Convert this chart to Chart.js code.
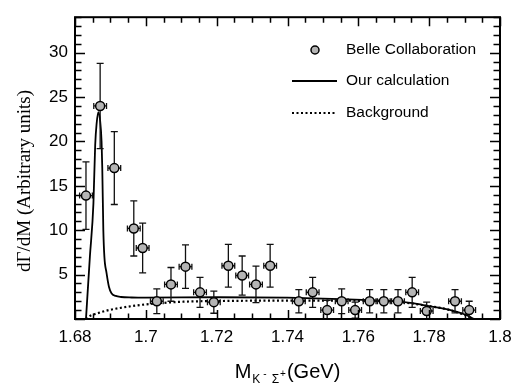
<!DOCTYPE html>
<html>
<head>
<meta charset="utf-8">
<script src="https://cdn.jsdelivr.net/npm/chart.js@4"></script>
<style>
  html, body { margin: 0; padding: 0; background: #fff; }
  #wrap { width: 520px; height: 385px; position: relative; }
</style>
</head>
<body>
<div id="wrap"><canvas id="chart"></canvas></div>
<script>
// Belle data points (M in GeV, dGamma/dM arbitrary units)
const massValues = [1.6831, 1.6871, 1.6911, 1.6966, 1.6991, 1.7031, 1.7071, 1.7112, 1.7153, 1.7192,
    1.7233, 1.7272, 1.7311, 1.7351, 1.7432, 1.7471, 1.7512, 1.7553, 1.7591, 1.7632,
    1.7672, 1.7712, 1.7752, 1.7793, 1.7873, 1.7913];
const belleValues = [13.9, 24.0, 17.0, 10.2, 8.0, 2.0, 3.9, 5.9, 3.0, 1.9,
    6.0, 4.9, 3.9, 6.0, 2.0, 3.0, 1.0, 2.0, 1.0, 2.0,
    2.0, 2.0, 3.0, 0.9, 2.0, 1.0];
const belleErrors = [3.8, 4.8, 4.1, 3.1, 2.8, 1.4, 1.9, 2.45, 1.7, 1.25,
    2.4, 2.2, 2.05, 2.4, 1.3, 1.7, 1.1, 1.4, 0.9, 1.3,
    1.3, 1.3, 1.7, 1.0, 1.3, 1.0];
const massError = 0.0018;

// "Our calculation" curve
const calcMass = [1.6831, 1.6842, 1.6852, 1.6857, 1.6861, 1.6866, 1.6871, 1.6875, 1.6877, 1.688,
    1.6883, 1.6889, 1.6896, 1.6903, 1.6915, 1.693, 1.696, 1.70, 1.72, 1.74,
    1.755, 1.765, 1.772, 1.778, 1.783, 1.787, 1.7905, 1.7925];
const calcValues = [0, 7, 13, 19.6, 22, 23.3, 22.3, 20, 17, 10,
    7, 5.2, 3.6, 2.9, 2.6, 2.48, 2.42, 2.4, 2.45, 2.4,
    2.25, 2.1, 1.95, 1.6, 1.25, 0.9, 0.45, 0];

// Background curve
const bgMass = [1.6831, 1.6838, 1.686, 1.6895, 1.6927, 1.6974, 1.7021, 1.7106, 1.72, 1.74,
    1.76, 1.77, 1.775, 1.78, 1.785, 1.79, 1.7925];
const bgValues = [0, 0.25, 0.6, 1.0, 1.24, 1.53, 1.72, 1.95, 2.02, 2.08,
    2.05, 1.95, 1.75, 1.45, 1.1, 0.45, 0];

const xTicks = [1.68, 1.70, 1.72, 1.74, 1.76, 1.78, 1.80];
const yTicks = [5, 10, 15, 20, 25, 30];

const legendLabels = ['Belle Collaboration', 'Our calculation', 'Background'];

const sansFont = "'Liberation Sans', Arial, sans-serif";
const serifFont = "'Liberation Serif', 'Times New Roman', serif";

// error bars, drawn just before the markers
const errorBars = {
    id: 'errorBars',
    beforeDatasetDraw(chart, args) {
        if (args.index !== 0) return;
        const { ctx, scales: { x, y } } = chart;
        ctx.save();
        ctx.strokeStyle = '#111';
        ctx.lineWidth = 1.3;
        massValues.forEach((m, i) => {
            const px = x.getPixelForValue(m);
            const py = y.getPixelForValue(belleValues[i]);
            const top = y.getPixelForValue(belleValues[i] + belleErrors[i]);
            const bot = y.getPixelForValue(Math.max(0, belleValues[i] - belleErrors[i]));
            const lx = x.getPixelForValue(m - massError);
            const rx = x.getPixelForValue(m + massError);
            ctx.beginPath();
            ctx.moveTo(px, top); ctx.lineTo(px, bot);
            ctx.moveTo(px - 3.5, top); ctx.lineTo(px + 3.5, top);
            ctx.moveTo(px - 3.5, bot); ctx.lineTo(px + 3.5, bot);
            ctx.moveTo(lx, py); ctx.lineTo(rx, py);
            ctx.moveTo(lx, py - 3); ctx.lineTo(lx, py + 3);
            ctx.moveTo(rx, py - 3); ctx.lineTo(rx, py + 3);
            ctx.stroke();
        });
        ctx.restore();
    }
};

// frame with inward ticks, titles and legend
const frameAndText = {
    id: 'frameAndText',
    afterDraw(chart) {
        const { ctx, chartArea: a, scales: { x, y } } = chart;
        ctx.save();
        ctx.strokeStyle = '#000';
        ctx.lineWidth = 2;
        ctx.strokeRect(a.left, a.top, a.right - a.left, a.bottom - a.top);

        ctx.lineWidth = 1.5;
        ctx.beginPath();
        for (let k = 0; k <= 24; k++) {
            const v = 1.68 + k * 0.005;
            const px = Math.round(x.getPixelForValue(v)) + 0.5;
            const len = k % 4 === 0 ? 9 : 5.5;
            ctx.moveTo(px, a.bottom); ctx.lineTo(px, a.bottom - len);
            ctx.moveTo(px, a.top); ctx.lineTo(px, a.top + len);
        }
        for (let v = 0; v <= 34; v++) {
            const py = Math.round(y.getPixelForValue(v)) + 0.5;
            const len = v % 5 === 0 ? 10 : 6.5;
            ctx.moveTo(a.left, py); ctx.lineTo(a.left + len, py);
            ctx.moveTo(a.right, py); ctx.lineTo(a.right - len, py);
        }
        ctx.stroke();

        // y title
        ctx.fillStyle = '#000';
        ctx.save();
        ctx.translate(25, 181);
        ctx.rotate(-Math.PI / 2);
        ctx.font = '19px ' + serifFont;
        ctx.textAlign = 'center';
        ctx.textBaseline = 'middle';
        ctx.fillText('dΓ/dM (Arbitrary units)', 0, 0);
        ctx.restore();

        // x title with subscript
        const parts = [
            { t: 'M', size: 20, dy: 0, gap: 0 },
            { t: 'K', size: 12, dy: 5, gap: 1 },
            { t: '-', size: 10, dy: -1, gap: 3 },
            { t: 'Σ', size: 12, dy: 5, gap: 5 },
            { t: '+', size: 10, dy: -1, gap: 1 },
            { t: '(GeV)', size: 20, dy: 0, gap: 1 }
        ];
        let total = 0;
        parts.forEach(p => {
            ctx.font = p.size + 'px ' + sansFont;
            p.w = ctx.measureText(p.t).width;
            total += p.w + p.gap;
        });
        let cx = (a.left + a.right) / 2 - total / 2;
        ctx.textAlign = 'left';
        ctx.textBaseline = 'alphabetic';
        parts.forEach(p => {
            cx += p.gap;
            ctx.font = p.size + 'px ' + sansFont;
            ctx.fillText(p.t, cx, 378 + p.dy);
            cx += p.w;
        });

        // legend
        const lineX0 = 292, lineX1 = 337, textX = 346;
        const rows = [50, 81, 113];
        ctx.font = '15.5px ' + sansFont;
        ctx.textBaseline = 'middle';
        legendLabels.forEach((label, i) => ctx.fillText(label, textX, rows[i]));

        ctx.beginPath();
        ctx.arc(315, rows[0], 4, 0, Math.PI * 2);
        ctx.fillStyle = '#b4b4b4';
        ctx.fill();
        ctx.lineWidth = 1.5;
        ctx.stroke();

        ctx.lineWidth = 1.8;
        ctx.beginPath();
        ctx.moveTo(lineX0, rows[1]); ctx.lineTo(lineX1, rows[1]);
        ctx.stroke();
        ctx.lineWidth = 2.2;
        ctx.setLineDash([2, 2.5]);
        ctx.beginPath();
        ctx.moveTo(lineX0, rows[2]); ctx.lineTo(lineX1, rows[2]);
        ctx.stroke();
        ctx.restore();
    }
};

const ctx = document.getElementById('chart').getContext('2d');
const chart = new Chart(ctx, {
    data: {
        datasets: [{
            type: 'scatter',
            label: legendLabels[0],
            data: massValues.map((m, i) => ({ x: m, y: belleValues[i] })),
            backgroundColor: '#b4b4b4',
            borderColor: '#000',
            borderWidth: 1.5,
            pointRadius: 4.5,
            order: 0,
        }, {
            type: 'line',
            label: legendLabels[1],
            data: calcMass.map((m, i) => ({ x: m, y: calcValues[i] })),
            borderColor: '#000',
            borderWidth: 1.8,
            pointRadius: 0,
            cubicInterpolationMode: 'monotone',
            fill: false,
            order: 1,
        }, {
            type: 'line',
            label: legendLabels[2],
            data: bgMass.map((m, i) => ({ x: m, y: bgValues[i] })),
            borderColor: '#000',
            borderWidth: 2.2,
            borderDash: [2, 2.5],
            pointRadius: 0,
            cubicInterpolationMode: 'monotone',
            fill: false,
            order: 2,
        }]
    },
    options: {
        responsive: true,
        maintainAspectRatio: false,
        devicePixelRatio: 1,
        animation: false,
        layout: { padding: { left: 0, right: 20, top: 10, bottom: 0 } },
        plugins: {
            legend: { display: false },
            tooltip: { enabled: false },
        },
        scales: {
            x: {
                type: 'linear',
                min: 1.68,
                max: 1.8,
                afterFit: s => { s.height = 66; },
                afterBuildTicks: s => { s.ticks = xTicks.map(v => ({ value: v })); },
                grid: { display: false, drawTicks: false },
                border: { display: false },
                ticks: {
                    padding: 8,
                    color: '#000',
                    font: { family: sansFont, size: 17 },
                    callback: v => String(Number(v.toFixed(2))),
                },
            },
            y: {
                min: 0,
                max: 34,
                afterFit: s => { s.width = 75; },
                afterBuildTicks: s => { s.ticks = yTicks.map(v => ({ value: v })); },
                grid: { display: false, drawTicks: false },
                border: { display: false },
                ticks: {
                    padding: 7,
                    color: '#000',
                    font: { family: sansFont, size: 17 },
                },
            },
        },
    },
    plugins: [errorBars, frameAndText],
});
</script>
</body>
</html>
